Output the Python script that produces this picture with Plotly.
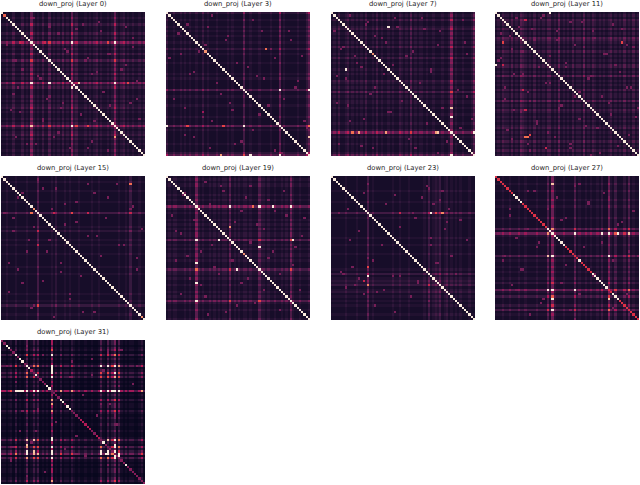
import plotly.graph_objects as go
import numpy as np

# heatmap size, cells per side
N = 64

layers = [0, 3, 7, 11, 15, 19, 23, 27, 31]

# per-index strength, base 36 digit, grouped in eights
gains_0 = "22322422 24232832 32422523 23242328 34222323 23423223 23832342 32322323"
gains_3 = "42232232 32322322 42322232 22232322 22622322 23222232 22723222 22322247"
gains_7 = "23242234 23232324 22324232 23232243 23252323 32322322 23223823 22322236"
gains_11 = "23243324 23254323 24232324 42325232 32423325 23243232 32342323 24232423"
gains_15 = "22322232 22232222 62222232 42223232 22322222 32232222 22223223 25222322"
gains_19 = "23233222 32322832 32232323 23326232 32332322 26332322 32232327 32232223"
gains_23 = "22222232 22232222 62322222 22232232 22322222 23252343 52342323 23222322"
gains_27 = "22232232 22322322 22322226 29322232 22262322 32322324 22832522 24262322"
gains_31 = "22123151 21281262 61212 1e1 21412214 21211211 21127217 25a17212 12211241"

# diagonal level, 0-9
diag_0 = "96999999 99999999 99999999 99999999 99999999 99999999 99999999 99999999"
diag_3 = "99999999 99999999 97999999 99999999 99999999 99999999 99999999 99999999"
diag_7 = "99999999 99999999 99799999 99999999 99999999 99999999 99999999 99999999"
diag_11 = "99999999 99999999 99999999 99999999 99999999 99999999 99999999 99999999"
diag_15 = "99999999 99999979 99999999 99999999 99999999 99999999 99999999 99999979"
diag_19 = "99999999 99999999 99999999 99999999 99799999 99999999 99999999 99999999"
diag_23 = "99999999 99999999 99999999 99999999 99999999 99999999 99999999 99999999"
diag_27 = "55555555 99995555 55555559 99999995 55555955 55599999 99559995 55555555"
diag_31 = "33993393 99399439 33339933 33993993 33344444 33443933 33333339 33333333"

# isolated bright cells as (row, col, value)
hot_0 = [(31, 21, 1.0), (33, 31, 1.0), (31, 34, 0.9), (13, 50, 1.0), (50, 13, 0.9), (55, 50, 0.8), (13, 31, 1.0), (31, 13, 1.0), (31, 50, 1.0), (50, 31, 1.0), (13, 8, 0.5), (13, 19, 0.5), (13, 47, 0.6), (50, 33, 0.6), (50, 38, 0.6), (31, 56, 0.6)]
hot_3 = [(16, 44, 0.7), (44, 16, 0.4), (24, 24, 0.8), (50, 0, 1.0), (63, 37, 1.0), (63, 24, 0.8), (34, 50, 1.0), (63, 50, 1.0), (50, 34, 1.0), (50, 9, 0.6), (50, 25, 0.6), (34, 63, 1.0), (55, 63, 0.9)]
hot_7 = [(25, 6, 1.0), (6, 25, 1.0), (46, 53, 1.0), (63, 53, 1.0), (53, 63, 1.0), (53, 47, 0.9), (53, 24, 0.8), (53, 9, 0.7), (53, 12, 0.8), (53, 46, 0.8), (35, 35, 0.8), (13, 13, 0.6), (42, 53, 0.9)]
hot_11 = [(55, 13, 0.7), (55, 14, 0.7), (54, 15, 0.6), (13, 3, 0.6), (13, 56, 0.6), (23, 0, 1.0), (0, 24, 1.0), (3, 13, 0.5), (34, 12, 0.5), (43, 13, 0.5), (60, 22, 0.5), (23, 3, 0.5)]
hot_15 = [(16, 31, 0.6), (3, 57, 0.7), (57, 57, 0.8), (16, 13, 0.7), (57, 16, 0.6), (16, 23, 0.5), (16, 57, 0.5), (16, 38, 0.5), (30, 16, 0.5), (24, 16, 0.5)]
hot_19 = [(28, 23, 1.0), (28, 56, 1.0), (41, 31, 1.0), (31, 41, 1.0), (22, 28, 0.8), (13, 41, 1.0), (13, 47, 1.0), (13, 28, 1.0), (13, 55, 1.0), (28, 13, 1.0), (38, 13, 1.0), (47, 13, 1.0), (55, 13, 1.0), (13, 38, 0.7)]
hot_23 = [(44, 16, 1.0), (48, 16, 0.75), (16, 44, 1.0), (16, 49, 0.75), (40, 16, 0.6), (16, 30, 0.5), (16, 46, 0.6), (43, 43, 0.6), (46, 14, 0.5), (48, 43, 0.5)]
hot_27 = [(23, 23, 1.0), (25, 25, 1.0), (3, 25, 0.9), (50, 50, 1.0), (50, 23, 1.0), (59, 25, 1.0), (35, 50, 1.0), (25, 59, 0.9), (25, 35, 1.0), (25, 47, 1.0), (25, 50, 1.0), (25, 54, 1.0), (35, 25, 1.0), (50, 25, 1.0), (54, 25, 1.0), (35, 23, 0.9), (50, 35, 1.0), (54, 50, 0.9)]
hot_31 = [(49, 50, 1.0), (50, 50, 1.0), (49, 49, 1.0), (11, 11, 0.9), (28, 22, 0.8), (44, 22, 1.0), (43, 22, 1.0), (12, 22, 1.0), (13, 22, 1.0), (22, 7, 1.0), (22, 8, 1.0), (22, 9, 1.0), (49, 11, 1.0), (44, 47, 0.9), (44, 50, 1.0), (46, 50, 1.0), (50, 44, 1.0), (50, 46, 1.0), (49, 44, 1.0), (49, 47, 1.0), (44, 11, 0.9), (44, 14, 0.9), (11, 44, 1.0), (11, 47, 1.0), (11, 50, 1.0), (14, 50, 1.0), (46, 11, 0.9), (49, 14, 0.9), (51, 50, 1.0), (51, 52, 1.0)]

# fainter pink specks, mirrored across the diagonal
speck_rows_0 = [2, 4, 6, 7, 9, 11, 17, 18, 20, 23, 25, 26, 28, 36, 37, 38, 40, 41, 44, 45, 47, 53, 55, 57, 58, 60, 61]
speck_cols_0 = [14, 43, 21, 33, 50, 58, 29, 48, 38, 55, 9, 42, 16, 5, 21, 60, 27, 48, 8, 35, 18, 25, 6, 40, 15, 30, 47]
speck_rows_3 = [1, 3, 5, 8, 10, 12, 14, 18, 20, 22, 26, 28, 30, 36, 38, 41, 43, 46, 48, 52, 54, 57, 60, 62]
speck_cols_3 = [20, 34, 9, 42, 27, 55, 17, 6, 48, 31, 12, 40, 58, 24, 3, 45, 29, 16, 61, 38, 8, 33, 19, 51]
speck_rows_7 = [1, 2, 4, 6, 8, 11, 13, 15, 17, 19, 21, 23, 24, 26, 28, 33, 37, 39, 41, 44, 47, 49, 51, 56, 58, 60, 62]
speck_cols_7 = [8, 40, 16, 29, 48, 22, 59, 5, 36, 10, 53, 27, 13, 44, 2, 19, 60, 31, 7, 25, 14, 42, 57, 34, 3, 18, 47]
speck_rows_11 = [1, 2, 4, 5, 7, 8, 10, 12, 14, 15, 17, 18, 20, 22, 24, 26, 27, 29, 31, 33, 35, 37, 38, 40, 42, 44, 46, 47, 49, 51, 53, 56, 58, 59, 61, 63]
speck_cols_11 = [21, 9, 33, 52, 16, 43, 6, 27, 58, 39, 12, 48, 2, 31, 19, 55, 8, 41, 24, 60, 14, 35, 4, 50, 28, 11, 62, 37, 18, 45, 23, 7, 33, 54, 15, 42]
speck_rows_15 = [1, 3, 5, 7, 9, 12, 14, 18, 20, 22, 26, 28, 30, 33, 36, 38, 41, 44, 46, 49, 51, 54, 58, 60, 62]
speck_cols_15 = [16, 38, 24, 9, 47, 28, 57, 5, 33, 14, 42, 21, 52, 11, 60, 26, 7, 35, 18, 49, 3, 30, 13, 41, 23]
speck_rows_19 = [2, 4, 6, 8, 10, 15, 17, 19, 21, 24, 26, 30, 33, 35, 37, 39, 43, 45, 48, 50, 52, 57, 59, 61]
speck_cols_19 = [17, 37, 25, 7, 45, 33, 53, 12, 40, 4, 60, 20, 47, 9, 29, 56, 23, 36, 15, 43, 6, 31, 50, 18]
speck_rows_23 = [3, 5, 8, 10, 14, 18, 20, 24, 27, 30, 33, 36, 38, 40, 42, 44, 45, 47, 49, 50, 52, 53, 55, 57, 60]
speck_cols_23 = [16, 43, 28, 48, 7, 37, 51, 12, 44, 22, 33, 16, 46, 9, 4, 30, 12, 38, 6, 23, 14, 35, 43, 19, 28]
speck_rows_27 = [1, 4, 6, 9, 11, 14, 17, 19, 21, 27, 29, 31, 33, 37, 39, 41, 44, 46, 48, 52, 56, 58, 61, 63]
speck_cols_27 = [25, 35, 14, 50, 41, 23, 6, 29, 54, 9, 47, 18, 59, 3, 31, 12, 43, 25, 7, 37, 20, 52, 15, 35]
speck_rows_31 = [2, 5, 9, 15, 18, 20, 24, 28, 30, 33, 36, 40, 42, 45, 48, 51, 53, 55, 58, 60, 61]
speck_cols_31 = [11, 47, 31, 40, 6, 52, 14, 44, 16, 50, 24, 8, 33, 13, 28, 37, 4, 47, 19, 11, 50]

gains = [gains_0, gains_3, gains_7, gains_11, gains_15, gains_19, gains_23, gains_27, gains_31]
diags = [diag_0, diag_3, diag_7, diag_11, diag_15, diag_19, diag_23, diag_27, diag_31]
hots = [hot_0, hot_3, hot_7, hot_11, hot_15, hot_19, hot_23, hot_27, hot_31]
specks = [
    (speck_rows_0, speck_cols_0), (speck_rows_3, speck_cols_3), (speck_rows_7, speck_cols_7),
    (speck_rows_11, speck_cols_11), (speck_rows_15, speck_cols_15), (speck_rows_19, speck_cols_19),
    (speck_rows_23, speck_cols_23), (speck_rows_27, speck_cols_27), (speck_rows_31, speck_cols_31),
]
speck_value = 0.3

# seaborn rocket
rocket = [
    [0.0, "#03051a"], [0.143, "#35193e"], [0.286, "#701f57"], [0.429, "#ad1759"],
    [0.571, "#e13342"], [0.714, "#f37651"], [0.857, "#f6b48f"], [1.0, "#faebdd"],
]

W, H = 640, 485
panel_x = [1, 166, 331, 495]
panel_y = [12, 176, 340]
side = 144


def build_matrix(gain_str, diag_str, hot, speck):
    g = np.array([int(c, 36) * 0.12 for c in gain_str.replace(" ", "")])
    d = np.array([int(c) / 9 for c in diag_str.replace(" ", "")])
    m = np.clip(np.outer(g, g), 0, 1)
    for r, c in zip(*speck):
        m[r, c] = max(m[r, c], speck_value)
        m[c, r] = max(m[c, r], speck_value)
    for r, c, v in hot:
        m[r, c] = v
    m[np.arange(N), np.arange(N)] = d
    return m


fig = go.Figure()
for i, layer in enumerate(layers):
    row, col = i // 4, i % 4
    x0, y0 = panel_x[col], panel_y[row]
    suffix = "" if i == 0 else str(i + 1)
    fig.add_trace(go.Heatmap(
        z=build_matrix(gains[i], diags[i], hots[i], specks[i]),
        zmin=0, zmax=1, colorscale=rocket, showscale=False,
        xaxis=f"x{suffix}", yaxis=f"y{suffix}",
    ))
    fig.update_layout({
        f"xaxis{suffix}": dict(
            domain=[x0 / W, (x0 + side) / W], range=[-0.5, N - 0.5],
            showticklabels=False, ticks="", showgrid=False, zeroline=False,
        ),
        f"yaxis{suffix}": dict(
            domain=[1 - (y0 + side) / H, 1 - y0 / H], range=[N - 0.5, -0.5],
            showticklabels=False, ticks="", showgrid=False, zeroline=False,
        ),
    })
    fig.add_annotation(
        text=f"down_proj (Layer {layer})",
        x=(x0 + side / 2) / W, y=1 - (y0 - 8) / H,
        xref="paper", yref="paper", showarrow=False,
        xanchor="center", yanchor="middle",
        font=dict(family="DejaVu Sans", size=6.8, color="#262626"),
    )

fig.update_layout(
    width=W, height=H, autosize=False,
    margin=dict(l=0, r=0, t=0, b=0),
    paper_bgcolor="white", plot_bgcolor="white",
)
fig.write_html("out.html", config={"displayModeBar": False},
               post_script="document.body.style.margin='0';")
